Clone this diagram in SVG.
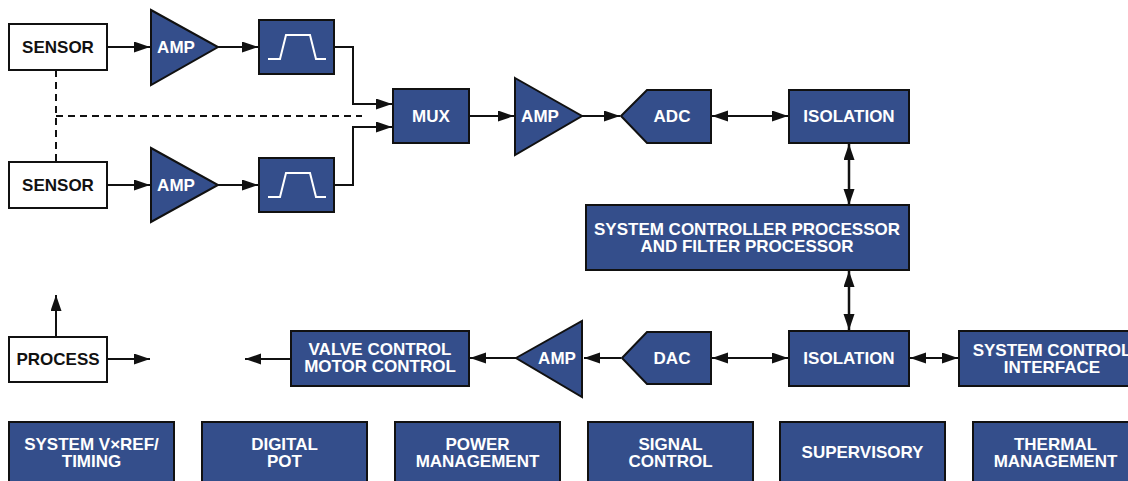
<svg xmlns="http://www.w3.org/2000/svg" width="1128" height="481" viewBox="0 0 1128 481">
<style>
.b{fill:#344e8b;stroke:#111;stroke-width:2}
.w{fill:#fff;stroke:#111;stroke-width:2}
.t{font-family:"Liberation Sans",Arial,sans-serif;font-weight:bold;font-size:17px;fill:#fff;text-anchor:middle}
.k{fill:#111}
.c{fill:none;stroke:#111;stroke-width:2}
.d{fill:none;stroke:#111;stroke-width:2;stroke-dasharray:7,5}
.f{fill:none;stroke:#fff;stroke-width:2}
</style>
<defs>
<marker id="ah" markerUnits="userSpaceOnUse" markerWidth="17" markerHeight="12" refX="16" refY="5.5" orient="auto-start-reverse">
<path d="M0,0 L16,5.5 L0,11 z" fill="#111"/>
</marker>
</defs>
<g id="connectors">
<path class="c" d="M107 47 H150" marker-end="url(#ah)"/>
<path class="c" d="M218 47 H258" marker-end="url(#ah)"/>
<path class="c" d="M107 185 H150" marker-end="url(#ah)"/>
<path class="c" d="M218 185 H258" marker-end="url(#ah)"/>
<path class="c" d="M334 47 H353 V104 H392" marker-end="url(#ah)"/>
<path class="c" d="M334 185 H353 V127 H392" marker-end="url(#ah)"/>
<path class="d" d="M56 70 V162"/>
<path class="d" d="M56 116 H362"/>
<path class="c" d="M469 116 H514" marker-end="url(#ah)"/>
<path class="c" d="M582 116 H620" marker-end="url(#ah)"/>
<path class="c" d="M712 116 H788" marker-start="url(#ah)" marker-end="url(#ah)"/>
<path class="c" style="stroke-width:2.5" d="M849 144 V205" marker-start="url(#ah)" marker-end="url(#ah)"/>
<path class="c" style="stroke-width:2.5" d="M849 271 V330" marker-start="url(#ah)" marker-end="url(#ah)"/>
<path class="c" d="M712 358 H788" marker-start="url(#ah)" marker-end="url(#ah)"/>
<path class="c" d="M910 358 H958" marker-start="url(#ah)" marker-end="url(#ah)"/>
<path class="c" d="M621 358 H584" marker-end="url(#ah)"/>
<path class="c" d="M516 358 H470" marker-end="url(#ah)"/>
<path class="c" d="M291 359 H245" marker-end="url(#ah)"/>
<path class="c" d="M107 359 H150" marker-end="url(#ah)"/>
<path class="c" d="M56 337 V295" marker-end="url(#ah)"/>
</g>
<g id="sensor1"><rect class="w" x="9" y="24" width="98" height="46"/><text class="t k" x="58" y="53">SENSOR</text></g>
<g id="sensor2"><rect class="w" x="9" y="162" width="98" height="46"/><text class="t k" x="58" y="191">SENSOR</text></g>
<g id="amp1"><path class="b" d="M151 10 L218 47 L151 85 Z"/><text class="t" x="176" y="53">AMP</text></g>
<g id="amp2"><path class="b" d="M151 148 L218 185 L151 222 Z"/><text class="t" x="176" y="191">AMP</text></g>
<g id="filter1"><rect class="b" x="259" y="20" width="75" height="54"/><path class="f" d="M268 59 H280 L286 35 H310 L316 59 H326"/></g>
<g id="filter2"><rect class="b" x="259" y="158" width="75" height="54"/><path class="f" d="M268 197 H280 L286 173 H310 L316 197 H326"/></g>
<g id="mux"><rect class="b" x="393" y="89" width="76" height="54"/><text class="t" x="431" y="122">MUX</text></g>
<g id="amp3"><path class="b" d="M515 78 L582 116 L515 155 Z"/><text class="t" x="540" y="122">AMP</text></g>
<g id="adc"><path class="b" d="M621 116 L647 90 H711 V143 H647 Z"/><text class="t" x="672" y="122">ADC</text></g>
<g id="isolation1"><rect class="b" x="789" y="90" width="120" height="53"/><text class="t" x="849" y="122">ISOLATION</text></g>
<g id="controller"><rect class="b" x="586" y="205" width="323" height="65"/><text class="t" x="747" y="235">SYSTEM CONTROLLER PROCESSOR</text><text class="t" x="747" y="252">AND FILTER PROCESSOR</text></g>
<g id="isolation2"><rect class="b" x="789" y="331" width="120" height="55"/><text class="t" x="849" y="364">ISOLATION</text></g>
<g id="sysif"><rect class="b" x="959" y="331" width="186" height="55"/><text class="t" x="1052" y="356">SYSTEM CONTROL</text><text class="t" x="1052" y="373">INTERFACE</text></g>
<g id="dac"><path class="b" d="M622 358 L647 332 H711 V384 H647 Z"/><text class="t" x="672" y="364">DAC</text></g>
<g id="amp4"><path class="b" d="M516 358 L582 321 V397 Z"/><text class="t" x="557" y="364">AMP</text></g>
<g id="valve"><rect class="b" x="291" y="331" width="178" height="55"/><text class="t" x="380" y="355">VALVE CONTROL</text><text class="t" x="380" y="372">MOTOR CONTROL</text></g>
<g id="process"><rect class="w" x="9" y="337" width="98" height="45"/><text class="t k" x="58" y="365">PROCESS</text></g>
<g id="b1"><rect class="b" x="9" y="422" width="165" height="62"/><text class="t" x="91.5" y="450">SYSTEM V×REF/</text><text class="t" x="91.5" y="467">TIMING</text></g>
<g id="b2"><rect class="b" x="202" y="422" width="165" height="62"/><text class="t" x="284.5" y="450">DIGITAL</text><text class="t" x="284.5" y="467">POT</text></g>
<g id="b3"><rect class="b" x="395" y="422" width="165" height="62"/><text class="t" x="477.5" y="450">POWER</text><text class="t" x="477.5" y="467">MANAGEMENT</text></g>
<g id="b4"><rect class="b" x="588" y="422" width="165" height="62"/><text class="t" x="670.5" y="450">SIGNAL</text><text class="t" x="670.5" y="467">CONTROL</text></g>
<g id="b5"><rect class="b" x="780" y="422" width="165" height="62"/><text class="t" x="862.5" y="458">SUPERVISORY</text></g>
<g id="b6"><rect class="b" x="973" y="422" width="165" height="62"/><text class="t" x="1055.5" y="450">THERMAL</text><text class="t" x="1055.5" y="467">MANAGEMENT</text></g>
</svg>
